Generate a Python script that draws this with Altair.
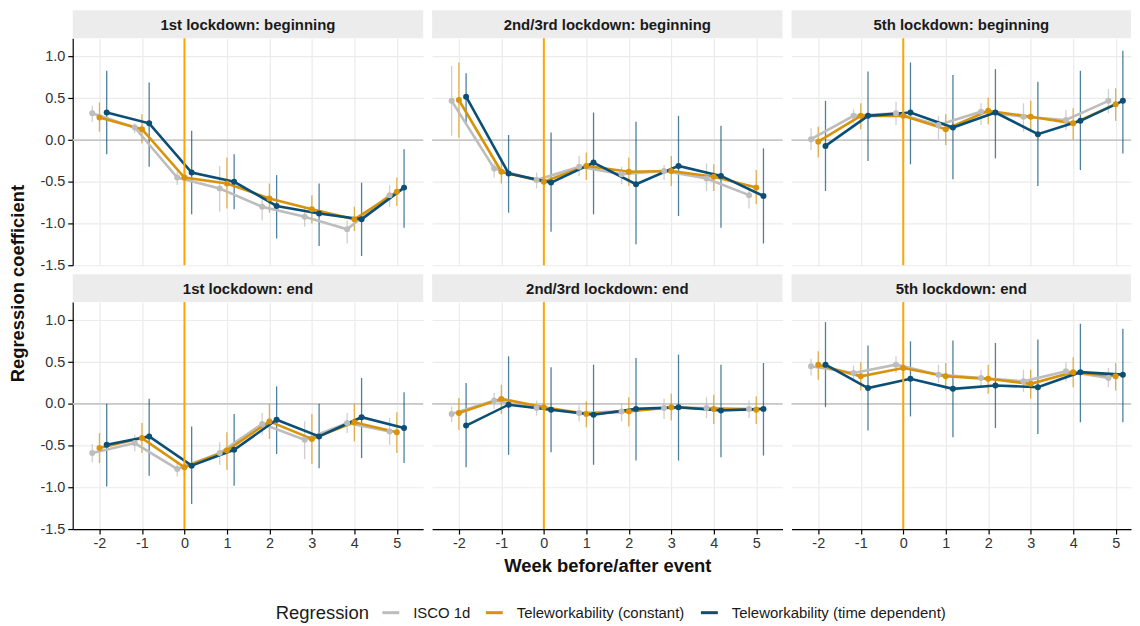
import altair as alt
import pandas as pd

weeks = [-2, -1, 0, 1, 2, 3, 4, 5]
panels = [
    "1st lockdown: beginning", "2nd/3rd lockdown: beginning", "5th lockdown: beginning",
    "1st lockdown: end", "2nd/3rd lockdown: end", "5th lockdown: end",
]
series = ["ISCO 1d", "Teleworkability (constant)", "Teleworkability (time dependent)"]
colors = ["#BDBDBD", "#D8930A", "#0B4F76"]
y_ticks = [-1.5, -1.0, -0.5, 0.0, 0.5, 1.0]
legend_title = "Regression"

# ISCO 1d
isco_coef = [
    [0.32, 0.15, -0.45, -0.58, -0.80, -0.92, -1.07, -0.66],
    [0.47, -0.34, -0.48, -0.32, -0.41, -0.37, -0.46, -0.66],
    [0.01, 0.29, 0.32, 0.18, 0.34, 0.28, 0.24, 0.47],
    [-0.59, -0.47, -0.78, -0.59, -0.24, -0.43, -0.23, -0.33],
    [-0.12, 0.04, -0.05, -0.11, -0.09, -0.05, -0.05, -0.06],
    [0.45, 0.37, 0.47, 0.35, 0.31, 0.27, 0.39, 0.31],
]
isco_lo = [
    [0.22, 0.08, -0.54, -0.86, -0.96, -1.04, -1.24, -0.80],
    [0.05, -0.45, -0.58, -0.43, -0.53, -0.48, -0.61, -0.82],
    [-0.12, 0.20, 0.18, 0.01, 0.18, 0.10, 0.12, 0.32],
    [-0.70, -0.57, -0.87, -0.73, -0.37, -0.66, -0.35, -0.49],
    [-0.22, -0.06, -0.14, -0.21, -0.21, -0.18, -0.17, -0.17],
    [0.34, 0.27, 0.37, 0.25, 0.20, 0.14, 0.27, 0.20],
]
isco_hi = [
    [0.41, 0.20, -0.38, -0.31, -0.66, -0.80, -0.96, -0.54],
    [0.89, -0.28, -0.39, -0.19, -0.32, -0.30, -0.28, -0.53],
    [0.14, 0.37, 0.46, 0.29, 0.44, 0.44, 0.36, 0.61],
    [-0.48, -0.37, -0.71, -0.46, -0.11, -0.21, -0.11, -0.17],
    [-0.03, 0.13, 0.04, -0.02, 0.01, 0.06, 0.08, 0.04],
    [0.54, 0.46, 0.57, 0.47, 0.41, 0.41, 0.50, 0.43],
]
# Teleworkability (constant)
const_coef = [
    [0.27, 0.13, -0.45, -0.52, -0.70, -0.83, -0.95, -0.62],
    [0.48, -0.38, -0.50, -0.31, -0.38, -0.37, -0.44, -0.57],
    [-0.02, 0.29, 0.29, 0.13, 0.35, 0.28, 0.20, 0.43],
    [-0.53, -0.41, -0.76, -0.56, -0.21, -0.42, -0.22, -0.34],
    [-0.11, 0.06, -0.04, -0.12, -0.09, -0.04, -0.06, -0.07],
    [0.47, 0.33, 0.43, 0.33, 0.30, 0.24, 0.38, 0.33],
]
const_lo = [
    [0.10, -0.04, -0.55, -0.82, -0.87, -1.00, -1.09, -0.79],
    [0.03, -0.52, -0.60, -0.48, -0.55, -0.55, -0.61, -0.77],
    [-0.21, 0.13, 0.12, -0.06, 0.19, 0.10, 0.00, 0.23],
    [-0.71, -0.59, -0.86, -0.79, -0.42, -0.72, -0.45, -0.59],
    [-0.31, -0.12, -0.14, -0.28, -0.27, -0.20, -0.24, -0.24],
    [0.29, 0.16, 0.33, 0.16, 0.12, 0.06, 0.20, 0.16],
]
const_hi = [
    [0.45, 0.31, -0.35, -0.21, -0.52, -0.66, -0.80, -0.45],
    [0.93, -0.21, -0.40, -0.15, -0.21, -0.19, -0.29, -0.36],
    [0.16, 0.44, 0.45, 0.31, 0.51, 0.47, 0.38, 0.62],
    [-0.35, -0.23, -0.66, -0.34, 0.00, -0.12, 0.00, -0.10],
    [0.07, 0.23, 0.06, 0.03, 0.08, 0.12, 0.11, 0.09],
    [0.63, 0.50, 0.53, 0.49, 0.47, 0.41, 0.56, 0.49],
]
# Teleworkability (time dependent)
td_coef = [
    [0.33, 0.20, -0.39, -0.50, -0.79, -0.88, -0.95, -0.57],
    [0.52, -0.40, -0.51, -0.27, -0.53, -0.31, -0.43, -0.67],
    [-0.07, 0.29, 0.33, 0.15, 0.33, 0.07, 0.23, 0.47],
    [-0.49, -0.39, -0.74, -0.55, -0.19, -0.39, -0.16, -0.29],
    [-0.26, -0.01, -0.07, -0.13, -0.06, -0.04, -0.08, -0.06],
    [0.47, 0.19, 0.30, 0.18, 0.22, 0.20, 0.38, 0.35],
]
td_lo = [
    [-0.17, -0.32, -0.89, -0.83, -1.18, -1.27, -1.39, -1.05],
    [0.21, -0.87, -1.10, -0.89, -1.25, -0.91, -1.05, -1.24],
    [-0.61, -0.25, -0.29, -0.47, -0.22, -0.55, -0.36, -0.16],
    [-0.99, -0.86, -1.20, -0.98, -0.60, -0.77, -0.65, -0.71],
    [-0.76, -0.61, -0.58, -0.73, -0.68, -0.68, -0.64, -0.62],
    [-0.04, -0.32, -0.15, -0.40, -0.29, -0.36, -0.22, -0.22],
]
td_hi = [
    [0.83, 0.69, 0.11, -0.17, -0.42, -0.52, -0.51, -0.11],
    [0.80, 0.06, 0.09, 0.33, 0.22, 0.29, 0.17, -0.10],
    [0.47, 0.82, 0.93, 0.78, 0.85, 0.70, 0.83, 1.07],
    [0.00, 0.06, -0.27, -0.12, 0.21, 0.00, 0.31, 0.14],
    [0.25, 0.57, 0.44, 0.47, 0.55, 0.59, 0.47, 0.49],
    [0.98, 0.70, 0.75, 0.76, 0.73, 0.77, 0.96, 0.90],
]

series_data = {
    series[0]: (isco_coef, isco_lo, isco_hi),
    series[1]: (const_coef, const_lo, const_hi),
    series[2]: (td_coef, td_lo, td_hi),
}
rows = []
for s, (c, lo, hi) in series_data.items():
    for p, pname in enumerate(panels):
        for k, w in enumerate(weeks):
            rows.append({"panel": pname, "reg": s, "week": w,
                         "coef": c[p][k], "lo": lo[p][k], "hi": hi[p][k]})
df = pd.DataFrame(rows)

FONT = "Liberation Sans"
DODGE = 0.17
XMIN = -2.63
PX_PER_UNIT = 42.67
PLOT_H = 228
STRIP_H = 28
GAP = 9
col_widths = [352, 352, 341]
YDOM = [-1.5, 1.22]
MINUS = "replace(datum.label, '\u2212', '-')"

# legend layout (pixels, relative to the bottom-middle panel)
LEG_Y = 312
LEG_TITLE_X = -157
LEG_SYM_X = [-50, 54, 270]
LEG_SYM_LEN = 17
LEG_LABEL_GAP = 14

color_scale = alt.Scale(domain=series, range=colors)


def x_axis(bottom, title=None):
    if bottom:
        return alt.Axis(values=weeks, labelExpr=MINUS, title=title, domain=True,
                        domainColor="#000000", domainWidth=1.2, ticks=True,
                        tickColor="#000000", tickSize=5, tickWidth=1.2,
                        labelFontSize=14.5, labelColor="#333333", labelFont=FONT,
                        labelPadding=3, labelFlush=False, grid=True,
                        gridColor="#ebebeb", gridWidth=1.2, titleFontSize=18.5,
                        titleFontWeight="bold", titleColor="#111111",
                        titleFont=FONT, titlePadding=6)
    return alt.Axis(values=weeks, grid=True, gridColor="#ebebeb", gridWidth=1.2,
                    labels=False, ticks=False, domain=False, title=None)


def y_axis(left):
    if left:
        return alt.Axis(values=y_ticks, format=".1f", labelExpr=MINUS, title=None,
                        domain=True, domainColor="#000000", domainWidth=1.2,
                        ticks=True, tickColor="#000000", tickSize=5, tickWidth=1.2,
                        labelFontSize=14.5, labelColor="#333333", labelFont=FONT,
                        labelPadding=3, labelFlush=False, grid=True,
                        gridColor="#ebebeb", gridWidth=1.2)
    return alt.Axis(values=y_ticks, grid=True, gridColor="#ebebeb", gridWidth=1.2,
                    labels=False, ticks=False, domain=False, title=None)


def legend_layers():
    out = []
    tdf = pd.DataFrame({"t": [legend_title]})
    out.append(alt.Chart(tdf).mark_text(
        font=FONT, fontSize=18.5, color="#1a1a1a", align="left", baseline="middle"
    ).encode(x=alt.value(LEG_TITLE_X), y=alt.value(LEG_Y), text="t:N"))
    for k, name in enumerate(series):
        sdf = pd.DataFrame({"t": [name]})
        out.append(alt.Chart(sdf).mark_rule(strokeWidth=3, color=colors[k]).encode(
            x=alt.value(LEG_SYM_X[k]), x2=alt.value(LEG_SYM_X[k] + LEG_SYM_LEN),
            y=alt.value(LEG_Y)))
        out.append(alt.Chart(sdf).mark_text(
            font=FONT, fontSize=15, color="#1a1a1a", align="left", baseline="middle"
        ).encode(x=alt.value(LEG_SYM_X[k] + LEG_SYM_LEN + LEG_LABEL_GAP),
                 y=alt.value(LEG_Y), text="t:N"))
    return out


def plot_panel(i):
    row, col = divmod(i, 3)
    name = panels[i]
    w = col_widths[col]
    xscale = alt.Scale(domain=[XMIN, XMIN + w / PX_PER_UNIT], nice=False, zero=False)
    yscale = alt.Scale(domain=YDOM, nice=False, zero=False)
    xa = x_axis(row == 1, "Week before/after event" if (row == 1 and col == 1) else None)
    ya = y_axis(col == 0)
    X = alt.X("xd:Q", scale=xscale, axis=xa)

    base = alt.Chart(df).transform_filter(alt.datum.panel == name).transform_calculate(
        xd=f"datum.week + (datum.reg == '{series[0]}' ? {-DODGE} : "
           f"(datum.reg == '{series[2]}' ? {DODGE} : 0))"
    )

    hline = alt.Chart(pd.DataFrame({"coef": [0.0]})).mark_rule(
        color="#c8c8c8", strokeWidth=1.8
    ).encode(y=alt.Y("coef:Q", scale=yscale, axis=ya))
    vline = alt.Chart(pd.DataFrame({"xd": [0.0]})).mark_rule(
        color="#FFA500", strokeWidth=2
    ).encode(x=X)

    errs = base.mark_rule(strokeWidth=1.3, opacity=0.72).encode(
        x=X, y=alt.Y("lo:Q", scale=yscale, axis=ya), y2="hi:Q",
        color=alt.Color("reg:N", scale=color_scale, legend=None),
    )
    lines = base.mark_line(strokeWidth=2.6).encode(
        x=X, y=alt.Y("coef:Q", scale=yscale, axis=ya),
        color=alt.Color("reg:N", scale=color_scale, legend=None),
    )
    pts = base.mark_circle(size=36, opacity=1).encode(
        x=X, y=alt.Y("coef:Q", scale=yscale, axis=ya),
        color=alt.Color("reg:N", scale=color_scale, legend=None),
    )
    layers = [hline, errs, lines, vline, pts]
    if i == 3:
        tdf = pd.DataFrame({"t": ["Regression coefficient"]})
        layers.append(alt.Chart(tdf).mark_text(
            font=FONT, fontSize=18.5, fontWeight="bold", color="#111111", angle=270,
            baseline="middle", align="center"
        ).encode(x=alt.value(-55), y=alt.value(-18.5), text="t:N"))
    if i == 4:
        layers += legend_layers()
    return alt.layer(*layers).properties(width=w, height=PLOT_H)


def strip_panel(i, top_gap):
    col = i % 3
    w = col_widths[col]
    sdf = pd.DataFrame({"t": [panels[i]]})
    bg = alt.Chart(sdf).mark_rect(color="#ececec").encode(
        x=alt.value(0), x2=alt.value(w), y=alt.value(top_gap),
        y2=alt.value(top_gap + STRIP_H)
    )
    txt = alt.Chart(sdf).mark_text(
        font=FONT, fontSize=15, fontWeight="bold", color="#1a1a1a", baseline="middle"
    ).encode(x=alt.value(w / 2), y=alt.value(top_gap + STRIP_H / 2 + 1), text="t:N")
    return alt.layer(bg, txt).properties(width=w, height=top_gap + STRIP_H)


cells = []
for r in range(2):
    gap = 0 if r == 0 else GAP
    cells += [strip_panel(r * 3 + c, gap) for c in range(3)]
    cells += [plot_panel(r * 3 + c) for c in range(3)]

chart = alt.concat(
    *cells, columns=3, spacing={"row": 0, "column": GAP}, bounds="flush", align="each"
).resolve_scale(
    x="independent", y="independent", color="shared"
).properties(
    padding={"left": 0, "top": 1, "right": 0, "bottom": 0}
).configure(font=FONT).configure_view(stroke=None)

chart.save("out.html", embed_options={"renderer": "svg", "actions": False})
